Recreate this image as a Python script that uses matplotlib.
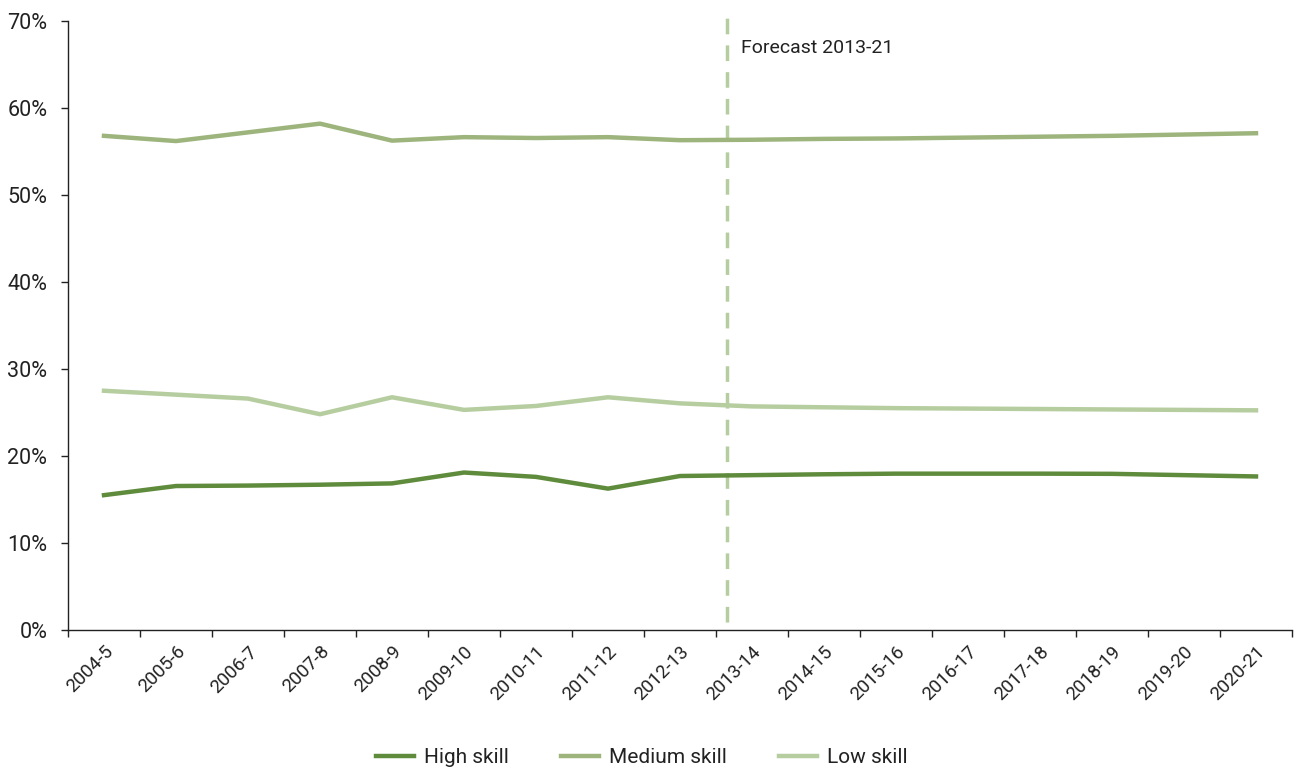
import matplotlib
matplotlib.use("Agg")
import matplotlib.pyplot as plt
from matplotlib.ticker import FixedLocator, FuncFormatter

plt.rcParams['font.family'] = ['Roboto', 'DejaVu Sans']

years = ["2004-5", "2005-6", "2006-7", "2007-8", "2008-9", "2009-10", "2010-11",
         "2011-12", "2012-13", "2013-14", "2014-15", "2015-16", "2016-17",
         "2017-18", "2018-19", "2019-20", "2020-21"]
high_skill = [15.5, 16.55, 16.6, 16.7, 16.85, 18.1, 17.6, 16.25, 17.7,
              17.8, 17.9, 17.97, 17.97, 17.97, 17.95, 17.8, 17.65]
medium_skill = [56.8, 56.2, 57.2, 58.2, 56.25, 56.65, 56.55, 56.65, 56.3,
                56.35, 56.45, 56.5, 56.6, 56.7, 56.8, 56.95, 57.1]
low_skill = [27.5, 27.05, 26.6, 24.8, 26.75, 25.3, 25.75, 26.75, 26.05,
             25.7, 25.6, 25.5, 25.45, 25.4, 25.35, 25.3, 25.25]
forecast_label = "Forecast 2013-21"
forecast_pos = 8.65

c_high = "#5f8b3c"
c_med = "#9db47d"
c_low = "#b6cda0"

fig = plt.figure(figsize=(12.97, 7.69), dpi=100)
ax = fig.add_axes([68/1297, (769-630)/769, (1292-68)/1297, (630-21)/769])

x = list(range(len(years)))
ax.plot(x, high_skill, color=c_high, lw=3.2, label="High skill", solid_joinstyle='miter')
ax.plot(x, medium_skill, color=c_med, lw=3.2, label="Medium skill", solid_joinstyle='miter')
ax.plot(x, low_skill, color=c_low, lw=3.2, label="Low skill", solid_joinstyle='miter')

ax.plot([forecast_pos, forecast_pos], [0.9, 70.7], color=c_low, lw=2.5,
        dashes=(4.5, 3.2), clip_on=False, zorder=1)
ax.text(forecast_pos + 0.2, 66.9, forecast_label, fontsize=14, color="#222222",
        va='center', ha='left')

ax.set_xlim(-0.5, len(years) - 0.5)
ax.set_ylim(0, 70)
ax.xaxis.set_major_locator(FixedLocator([i - 0.5 for i in range(len(years) + 1)]))
ax.xaxis.set_minor_locator(FixedLocator(x))
ax.set_xticklabels([], minor=False)
ax.set_xticklabels(years, minor=True, rotation=45, ha='right', rotation_mode='anchor',
                   fontsize=13.5, color="#222222")
ax.tick_params(axis='x', which='minor', length=0, pad=9)
ax.tick_params(axis='x', which='major', length=5, width=1, color="#222222")
ax.set_yticks(range(0, 71, 10))
ax.yaxis.set_major_formatter(FuncFormatter(lambda v, p: f"{int(v)}%"))
ax.tick_params(axis='y', length=5, width=1, labelsize=15.5, labelcolor="#222222", pad=10,
               color="#222222")

for s in ['top', 'right']:
    ax.spines[s].set_visible(False)
for s in ['left', 'bottom']:
    ax.spines[s].set_color("#222222")
    ax.spines[s].set_linewidth(1)

fig.legend(loc='center', bbox_to_anchor=(0.495, 0.015), ncol=3, frameon=False,
           fontsize=15, handlelength=1.8, columnspacing=2.5, handletextpad=0.5,
           labelcolor="#222222")

fig.savefig("out.png", dpi=100)
